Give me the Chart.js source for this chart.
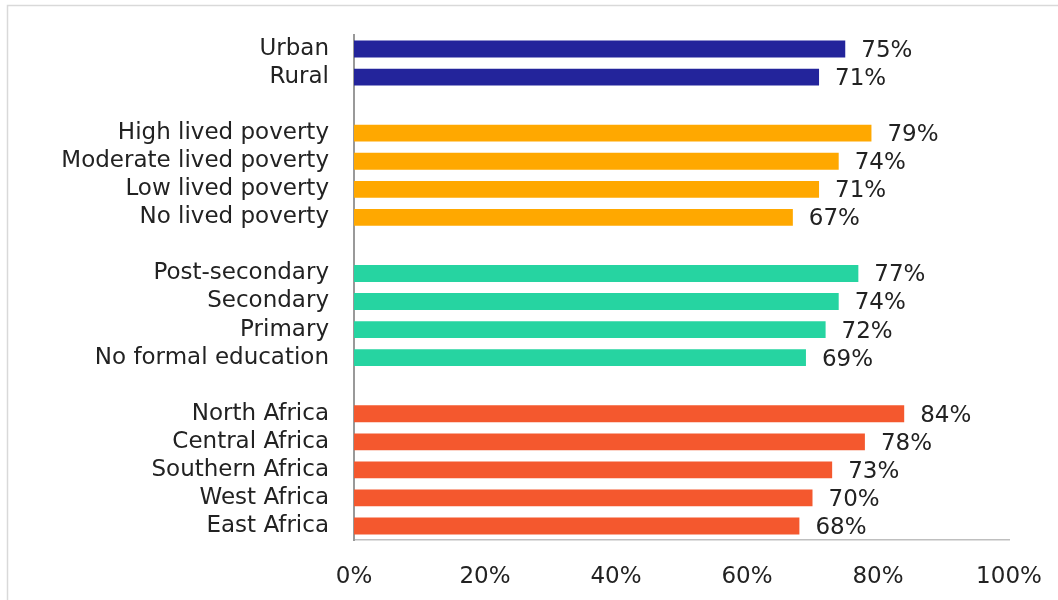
<!DOCTYPE html>
<html>
<head>
<meta charset="utf-8">
<script src="https://cdn.jsdelivr.net/npm/chart.js@4/dist/chart.umd.min.js"></script>
<style>
    html, body { margin: 0; padding: 0; background: #fff; overflow: hidden; }
    #wrap { width: 1058px; height: 600px; position: relative; }
</style>
</head>
<body>
<div id="wrap"><canvas id="chart" width="1058" height="600"></canvas></div>
<script>
// groups of rows, top to bottom
const residenceLabels = ['Urban', 'Rural'];
const residenceValues = [75, 71];

const povertyLabels = ['High lived poverty', 'Moderate lived poverty', 'Low lived poverty', 'No lived poverty'];
const povertyValues = [79, 74, 71, 67];

const educationLabels = ['Post-secondary', 'Secondary', 'Primary', 'No formal education'];
const educationValues = [77, 74, 72, 69];

const regionLabels = ['North Africa', 'Central Africa', 'Southern Africa', 'West Africa', 'East Africa'];
const regionValues = [84, 78, 73, 70, 68];

const groupColors = ['#23249b', '#ffa800', '#26d4a1', '#f4582e'];
const xTicks = [0, 20, 40, 60, 80, 100];

// build one category list with an empty row between groups
const groups = [
    [residenceLabels, residenceValues],
    [povertyLabels, povertyValues],
    [educationLabels, educationValues],
    [regionLabels, regionValues]
];
let labels = [];
let values = [];
let colors = [];
groups.forEach((g, i) => {
    if (i > 0) {
        labels.push('');
        values.push(null);
        colors.push('transparent');
    }
    g[0].forEach((name, j) => {
        labels.push(name);
        values.push(g[1][j]);
        colors.push(groupColors[i]);
    });
});

const FONT = 'DejaVu Sans';
const FONT_SIZE = 23;

// value text at the end of each bar
const barValues = {
    id: 'barValues',
    afterDatasetsDraw(chart) {
        const ctx = chart.ctx;
        const meta = chart.getDatasetMeta(0);
        ctx.save();
        ctx.font = FONT_SIZE + 'px "' + FONT + '"';
        ctx.fillStyle = '#222';
        ctx.textAlign = 'left';
        ctx.textBaseline = 'middle';
        meta.data.forEach((bar, i) => {
            if (values[i] === null) return;
            ctx.fillText(values[i] + '%', bar.x + 16, bar.y + 2);
        });
        ctx.restore();
    }
};

// light frame around the chart
const frame = {
    id: 'frame',
    beforeDraw(chart) {
        const ctx = chart.ctx;
        ctx.save();
        ctx.strokeStyle = '#d9d9d9';
        ctx.lineWidth = 1.5;
        ctx.strokeRect(7.5, 5.5, 1200, 800);
        ctx.restore();
    }
};

new Chart(document.getElementById('chart'), {
    type: 'bar',
    data: {
        labels: labels,
        datasets: [{
            data: values,
            backgroundColor: colors,
            borderWidth: 0,
            barPercentage: 0.6,
            categoryPercentage: 1
        }]
    },
    options: {
        indexAxis: 'y',
        responsive: false,
        animation: false,
        devicePixelRatio: 1,
        layout: { padding: { top: 35, right: 49, bottom: 0, left: 0 } },
        plugins: {
            legend: { display: false },
            tooltip: { enabled: false }
        },
        scales: {
            x: {
                min: 0,
                max: 100,
                afterBuildTicks: (axis) => {
                    axis.ticks = xTicks.map(v => ({ value: v }));
                },
                afterFit: (axis) => {
                    axis.height = 60;
                    // the 100% label may hang past the plot edge
                    axis.paddingLeft = 0;
                    axis.paddingRight = 0;
                },
                grid: { display: false, drawTicks: false },
                border: { display: true, color: '#bfbfbf', width: 1.5 },
                ticks: {
                    padding: 23,
                    color: '#222',
                    font: { family: FONT, size: FONT_SIZE },
                    callback: v => v + '%'
                }
            },
            y: {
                afterFit: (axis) => {
                    axis.width = 354;
                    axis.paddingTop = 0;
                    axis.paddingBottom = 0;
                },
                grid: { display: false, drawTicks: false },
                border: { display: true, color: '#999999', width: 2 },
                ticks: {
                    padding: 25,
                    autoSkip: false,
                    color: '#222',
                    font: { family: FONT, size: FONT_SIZE }
                }
            }
        }
    },
    plugins: [frame, barValues]
});
</script>
</body>
</html>
